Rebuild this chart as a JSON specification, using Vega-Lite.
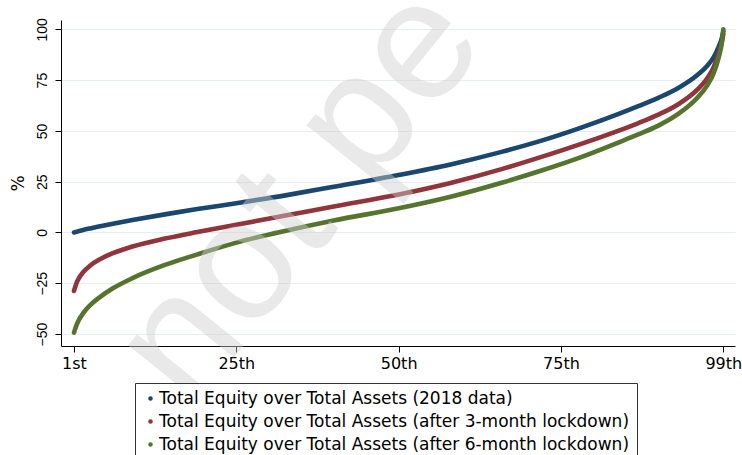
{
  "$schema": "https://vega.github.io/schema/vega-lite/v6.json",
  "width": 674,
  "height": 326,
  "autosize": "none",
  "padding": {"left": 61, "top": 20, "right": 7, "bottom": 109},
  "background": "white",
  "config": {
    "view": {"stroke": null},
    "axis": {
      "domainColor": "black",
      "tickColor": "black",
      "labelColor": "black",
      "titleColor": "black",
      "tickSize": 6,
      "domainWidth": 1,
      "tickWidth": 1
    }
  },
  "datasets": {
    "curves": [
      {"rank": 0, "value": 0, "series": "Total Equity over Total Assets (2018 data)"},
      {"rank": 0.4, "value": 0.35, "series": "Total Equity over Total Assets (2018 data)"},
      {"rank": 0.8, "value": 0.7, "series": "Total Equity over Total Assets (2018 data)"},
      {"rank": 1.4, "value": 1.2, "series": "Total Equity over Total Assets (2018 data)"},
      {"rank": 2.5, "value": 2, "series": "Total Equity over Total Assets (2018 data)"},
      {"rank": 4, "value": 3, "series": "Total Equity over Total Assets (2018 data)"},
      {"rank": 6, "value": 4.3, "series": "Total Equity over Total Assets (2018 data)"},
      {"rank": 9, "value": 6.1, "series": "Total Equity over Total Assets (2018 data)"},
      {"rank": 14, "value": 8.9, "series": "Total Equity over Total Assets (2018 data)"},
      {"rank": 19, "value": 11.5, "series": "Total Equity over Total Assets (2018 data)"},
      {"rank": 25, "value": 14.4, "series": "Total Equity over Total Assets (2018 data)"},
      {"rank": 33, "value": 18.5, "series": "Total Equity over Total Assets (2018 data)"},
      {"rank": 40, "value": 22.5, "series": "Total Equity over Total Assets (2018 data)"},
      {"rank": 50, "value": 28.3, "series": "Total Equity over Total Assets (2018 data)"},
      {"rank": 58, "value": 33.5, "series": "Total Equity over Total Assets (2018 data)"},
      {"rank": 66, "value": 39.8, "series": "Total Equity over Total Assets (2018 data)"},
      {"rank": 72, "value": 45.2, "series": "Total Equity over Total Assets (2018 data)"},
      {"rank": 78, "value": 51.5, "series": "Total Equity over Total Assets (2018 data)"},
      {"rank": 84, "value": 58.5, "series": "Total Equity over Total Assets (2018 data)"},
      {"rank": 87, "value": 62.3, "series": "Total Equity over Total Assets (2018 data)"},
      {"rank": 90, "value": 66.3, "series": "Total Equity over Total Assets (2018 data)"},
      {"rank": 93, "value": 71, "series": "Total Equity over Total Assets (2018 data)"},
      {"rank": 96, "value": 77.5, "series": "Total Equity over Total Assets (2018 data)"},
      {"rank": 97.5, "value": 82, "series": "Total Equity over Total Assets (2018 data)"},
      {"rank": 98.5, "value": 86.2, "series": "Total Equity over Total Assets (2018 data)"},
      {"rank": 99.3, "value": 91.5, "series": "Total Equity over Total Assets (2018 data)"},
      {"rank": 99.8, "value": 96, "series": "Total Equity over Total Assets (2018 data)"},
      {"rank": 100, "value": 99, "series": "Total Equity over Total Assets (2018 data)"},

      {"rank": 0, "value": -28.8, "series": "Total Equity over Total Assets (after 3-month lockdown)"},
      {"rank": 0.4, "value": -24.8, "series": "Total Equity over Total Assets (after 3-month lockdown)"},
      {"rank": 0.8, "value": -22.3, "series": "Total Equity over Total Assets (after 3-month lockdown)"},
      {"rank": 1.4, "value": -19.6, "series": "Total Equity over Total Assets (after 3-month lockdown)"},
      {"rank": 2.5, "value": -16.3, "series": "Total Equity over Total Assets (after 3-month lockdown)"},
      {"rank": 4, "value": -13.2, "series": "Total Equity over Total Assets (after 3-month lockdown)"},
      {"rank": 6, "value": -10.2, "series": "Total Equity over Total Assets (after 3-month lockdown)"},
      {"rank": 9, "value": -6.9, "series": "Total Equity over Total Assets (after 3-month lockdown)"},
      {"rank": 14, "value": -3, "series": "Total Equity over Total Assets (after 3-month lockdown)"},
      {"rank": 19, "value": 0.2, "series": "Total Equity over Total Assets (after 3-month lockdown)"},
      {"rank": 25, "value": 3.8, "series": "Total Equity over Total Assets (after 3-month lockdown)"},
      {"rank": 33, "value": 8.6, "series": "Total Equity over Total Assets (after 3-month lockdown)"},
      {"rank": 40, "value": 12.8, "series": "Total Equity over Total Assets (after 3-month lockdown)"},
      {"rank": 50, "value": 18.7, "series": "Total Equity over Total Assets (after 3-month lockdown)"},
      {"rank": 58, "value": 24.4, "series": "Total Equity over Total Assets (after 3-month lockdown)"},
      {"rank": 66, "value": 31.3, "series": "Total Equity over Total Assets (after 3-month lockdown)"},
      {"rank": 72, "value": 37.2, "series": "Total Equity over Total Assets (after 3-month lockdown)"},
      {"rank": 78, "value": 43.5, "series": "Total Equity over Total Assets (after 3-month lockdown)"},
      {"rank": 84, "value": 50.3, "series": "Total Equity over Total Assets (after 3-month lockdown)"},
      {"rank": 87, "value": 54, "series": "Total Equity over Total Assets (after 3-month lockdown)"},
      {"rank": 90, "value": 58, "series": "Total Equity over Total Assets (after 3-month lockdown)"},
      {"rank": 93, "value": 63, "series": "Total Equity over Total Assets (after 3-month lockdown)"},
      {"rank": 96, "value": 70.3, "series": "Total Equity over Total Assets (after 3-month lockdown)"},
      {"rank": 97.5, "value": 75.8, "series": "Total Equity over Total Assets (after 3-month lockdown)"},
      {"rank": 98.5, "value": 81.3, "series": "Total Equity over Total Assets (after 3-month lockdown)"},
      {"rank": 99.3, "value": 88.3, "series": "Total Equity over Total Assets (after 3-month lockdown)"},
      {"rank": 99.8, "value": 94.2, "series": "Total Equity over Total Assets (after 3-month lockdown)"},
      {"rank": 100, "value": 97.5, "series": "Total Equity over Total Assets (after 3-month lockdown)"},

      {"rank": 0, "value": -49.3, "series": "Total Equity over Total Assets (after 6-month lockdown)"},
      {"rank": 0.4, "value": -45.5, "series": "Total Equity over Total Assets (after 6-month lockdown)"},
      {"rank": 0.8, "value": -42.8, "series": "Total Equity over Total Assets (after 6-month lockdown)"},
      {"rank": 1.4, "value": -39.8, "series": "Total Equity over Total Assets (after 6-month lockdown)"},
      {"rank": 2.5, "value": -35.8, "series": "Total Equity over Total Assets (after 6-month lockdown)"},
      {"rank": 4, "value": -31.8, "series": "Total Equity over Total Assets (after 6-month lockdown)"},
      {"rank": 6, "value": -27.5, "series": "Total Equity over Total Assets (after 6-month lockdown)"},
      {"rank": 9, "value": -22.5, "series": "Total Equity over Total Assets (after 6-month lockdown)"},
      {"rank": 14, "value": -16, "series": "Total Equity over Total Assets (after 6-month lockdown)"},
      {"rank": 19, "value": -10.8, "series": "Total Equity over Total Assets (after 6-month lockdown)"},
      {"rank": 25, "value": -5, "series": "Total Equity over Total Assets (after 6-month lockdown)"},
      {"rank": 33, "value": 1.1, "series": "Total Equity over Total Assets (after 6-month lockdown)"},
      {"rank": 40, "value": 5.9, "series": "Total Equity over Total Assets (after 6-month lockdown)"},
      {"rank": 50, "value": 11.9, "series": "Total Equity over Total Assets (after 6-month lockdown)"},
      {"rank": 58, "value": 17.6, "series": "Total Equity over Total Assets (after 6-month lockdown)"},
      {"rank": 66, "value": 24.6, "series": "Total Equity over Total Assets (after 6-month lockdown)"},
      {"rank": 72, "value": 30.5, "series": "Total Equity over Total Assets (after 6-month lockdown)"},
      {"rank": 78, "value": 37, "series": "Total Equity over Total Assets (after 6-month lockdown)"},
      {"rank": 84, "value": 44.5, "series": "Total Equity over Total Assets (after 6-month lockdown)"},
      {"rank": 87, "value": 48.4, "series": "Total Equity over Total Assets (after 6-month lockdown)"},
      {"rank": 90, "value": 52.6, "series": "Total Equity over Total Assets (after 6-month lockdown)"},
      {"rank": 93, "value": 58.2, "series": "Total Equity over Total Assets (after 6-month lockdown)"},
      {"rank": 96, "value": 66.3, "series": "Total Equity over Total Assets (after 6-month lockdown)"},
      {"rank": 97.5, "value": 72.3, "series": "Total Equity over Total Assets (after 6-month lockdown)"},
      {"rank": 98.5, "value": 78.3, "series": "Total Equity over Total Assets (after 6-month lockdown)"},
      {"rank": 99.3, "value": 86.3, "series": "Total Equity over Total Assets (after 6-month lockdown)"},
      {"rank": 99.8, "value": 94, "series": "Total Equity over Total Assets (after 6-month lockdown)"},
      {"rank": 100, "value": 100, "series": "Total Equity over Total Assets (after 6-month lockdown)"}
    ],
    "watermark": [
      {"rank": 34.8, "value": 18.4, "label": "not pe"}
    ]
  },
  "layer": [
    {
      "data": {"name": "curves"},
      "mark": {"type": "line", "strokeWidth": 4.6, "strokeCap": "round", "strokeJoin": "round", "interpolate": "monotone"},
      "encoding": {
        "x": {
          "field": "rank",
          "type": "quantitative",
          "scale": {"domain": [-2, 101.8], "nice": false, "zero": false},
          "axis": {
            "title": null,
            "values": [0, 25, 50, 75, 100],
            "labelExpr": "datum.value == 0 ? '1st' : datum.value == 100 ? '99th' : datum.value + 'th'",
            "grid": false,
            "labelFont": "DejaVu Sans",
            "labelFontSize": 16,
            "labelPadding": 3,
            "labelFlush": false
          }
        },
        "y": {
          "field": "value",
          "type": "quantitative",
          "scale": {"domain": [-55.9, 104.6], "nice": false, "zero": false},
          "axis": {
            "title": "%",
            "titleFont": "DejaVu Sans",
            "titleFontSize": 17,
            "titleFontWeight": "normal",
            "titlePadding": 8,
            "values": [-50, -25, 0, 25, 50, 75, 100],
            "labelAngle": -90,
            "labelAlign": "center",
            "labelBaseline": "bottom",
            "labelFont": "Liberation Sans",
            "labelFontSize": 14,
            "labelPadding": 6,
            "labelFlush": false,
            "grid": true,
            "gridColor": "#e6eef0",
            "gridWidth": 1
          }
        },
        "color": {
          "field": "series",
          "type": "nominal",
          "scale": {
            "domain": [
              "Total Equity over Total Assets (2018 data)",
              "Total Equity over Total Assets (after 3-month lockdown)",
              "Total Equity over Total Assets (after 6-month lockdown)"
            ],
            "range": ["#1a476f", "#90353b", "#55752f"]
          },
          "legend": {
            "title": null,
            "orient": "none",
            "legendX": 74,
            "legendY": 363,
            "direction": "vertical",
            "strokeColor": "#333333",
            "fillColor": "white",
            "padding": 7,
            "symbolType": "circle",
            "symbolSize": 5,
            "symbolStrokeWidth": 2.4,
            "labelFont": "DejaVu Sans",
            "labelFontSize": 17,
            "labelColor": "black",
            "labelOffset": 0,
            "labelLimit": 0,
            "rowPadding": 5
          }
        }
      }
    },
    {
      "data": {"name": "watermark"},
      "mark": {"type": "text", "font": "Liberation Sans", "fontSize": 170, "angle": -51, "align": "center", "baseline": "middle", "color": "#cfcfcf", "opacity": 0.45},
      "encoding": {
        "x": {"field": "rank", "type": "quantitative"},
        "y": {"field": "value", "type": "quantitative"},
        "text": {"field": "label"}
      }
    }
  ]
}
